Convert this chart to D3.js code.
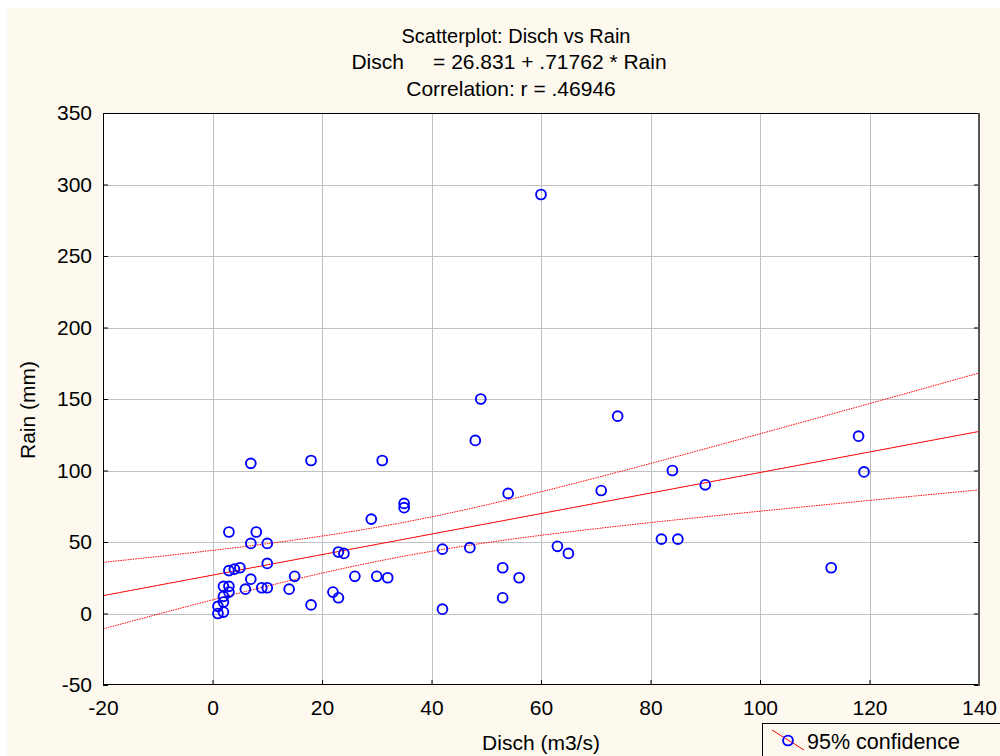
<!DOCTYPE html>
<html>
<head>
<meta charset="utf-8">
<script src="https://cdn.jsdelivr.net/npm/d3@7"></script>
<style>
  html, body { margin: 0; padding: 0; background: #ffffff; }
  svg { display: block; }
  text { font-family: "Liberation Sans", Arial, sans-serif; fill: #000; }
</style>
</head>
<body>
<svg id="chart" width="1000" height="756"></svg>
<script>
// Discharge (m3/s) observations
const disch = [1, 1, 2, 2, 2, 2, 3, 3,
  3, 4, 5, 3, 7, 8, 7, 10, 10, 7,
  6, 9, 10, 14, 15, 18, 18, 22, 23, 23,
  24, 26, 29, 30, 31, 32, 35, 35, 42, 42,
  47, 48, 49, 53, 53, 54, 56, 60, 63, 65,
  71, 74, 82, 84, 85, 90, 113, 118, 119];
// Rainfall (mm) observations, paired with disch
const rain = [5, 0, 1, 8, 12, 19, 19, 15,
  30, 31, 32, 57, 105, 57, 49, 49, 35, 24,
  17, 18, 18, 17, 26, 107, 6, 15, 11, 43,
  42, 26, 66, 26, 107, 25, 77, 74, 45, 3,
  46, 121, 150, 32, 11, 84, 25, 293, 47, 42,
  86, 138, 52, 100, 52, 90, 32, 124, 99];

// Fitted regression
const intercept = 26.831;
const slope = 0.71762;
const corrR = ".46946";
const tCrit = 2.004; // t(0.975, n-2)

const xTicks = [-20, 0, 20, 40, 60, 80, 100, 120, 140];
const yTicks = [-50, 0, 50, 100, 150, 200, 250, 300, 350];

const titleLines = ["Scatterplot: Disch vs Rain",
  "Disch     = 26.831 + .71762 * Rain",
  "Correlation: r = " + corrR];
const xTitle = "Disch (m3/s)";
const yTitle = "Rain (mm)";
const legendLabel = "95% confidence";

const svg = d3.select("#chart");
const L = 103, R = 979, T = 113, B = 685;
const fs = "21px";
const cream = "#fdf9ef";

// Page background
svg.append("rect").attr("x", 7).attr("y", 8).attr("width", 993).attr("height", 748)
  .attr("fill", cream);

const x = d3.scaleLinear().domain([-20, 140]).range([L, R]);
const y = d3.scaleLinear().domain([-50, 350]).range([B, T]);

// Plot area
svg.append("rect").attr("x", L).attr("y", T).attr("width", R - L).attr("height", B - T)
  .attr("fill", "#ffffff");

// Grid
const grid = svg.append("g").attr("stroke", "#c0c0c0").attr("stroke-width", 1);
grid.selectAll("line.v").data(xTicks.slice(1, -1)).join("line")
  .attr("x1", d => Math.round(x(d)) + 0.5).attr("x2", d => Math.round(x(d)) + 0.5)
  .attr("y1", T).attr("y2", B);
grid.selectAll("line.h").data(yTicks.slice(1, -1)).join("line")
  .attr("y1", d => Math.round(y(d)) + 0.5).attr("y2", d => Math.round(y(d)) + 0.5)
  .attr("x1", L).attr("x2", R);

// Confidence band for the mean response
const n = disch.length;
const xbar = d3.mean(disch);
const sxx = d3.sum(disch, v => (v - xbar) ** 2);
const sse = d3.sum(disch, (v, i) => (rain[i] - (intercept + slope * v)) ** 2);
const se = Math.sqrt(sse / (n - 2));
const halfWidth = v => tCrit * se * Math.sqrt(1 / n + (v - xbar) ** 2 / sxx);
const xs = d3.range(-20, 140.01, 1);

svg.append("clipPath").attr("id", "plotClip").append("rect")
  .attr("x", L).attr("y", T).attr("width", R - L).attr("height", B - T);
const lines = svg.append("g").attr("clip-path", "url(#plotClip)");

const fit = v => intercept + slope * v;
lines.append("path")
  .attr("d", d3.line().x(d => x(d)).y(d => y(fit(d)))(xs))
  .attr("fill", "none").attr("stroke", "#ff0000").attr("stroke-width", 1);
[1, -1].forEach(sign => {
  lines.append("path")
    .attr("d", d3.line().x(d => x(d)).y(d => y(fit(d) + sign * halfWidth(d)))(xs))
    .attr("fill", "none").attr("stroke", "#ff0000").attr("stroke-width", 1)
    .attr("stroke-dasharray", "1.5,1");
});

// Points
svg.append("g").selectAll("circle").data(disch).join("circle")
  .attr("cx", d => x(d)).attr("cy", (d, i) => y(rain[i])).attr("r", 4.9)
  .attr("fill", "none").attr("stroke", "#0000ff").attr("stroke-width", 1.9);

// Axes with inward ticks
const plain = d => String(d);
const ax = svg.append("g").attr("transform", `translate(0,${B})`)
  .call(d3.axisBottom(x).tickValues(xTicks).tickFormat(plain).tickSize(-5).tickPadding(15));
const ay = svg.append("g").attr("transform", `translate(${L},0)`)
  .call(d3.axisLeft(y).tickValues(yTicks).tickFormat(plain).tickSize(-5).tickPadding(11));
const ar = svg.append("g").attr("transform", `translate(${R},0)`)
  .call(d3.axisRight(y).tickValues(yTicks).tickSize(-5).tickFormat(""));
[ax, ay, ar].forEach(g => {
  g.select(".domain").remove();
  g.selectAll(".tick line").attr("stroke", "#000");
  g.selectAll(".tick text").style("font-size", fs)
    .style("font-family", "'Liberation Sans', Arial, sans-serif");
});

// Frame
svg.append("rect").attr("x", L + 0.5).attr("y", T + 0.5).attr("width", R - L - 1).attr("height", B - T - 1)
  .attr("fill", "none").attr("stroke", "#000").attr("stroke-width", 1);
svg.append("line").attr("x1", R).attr("x2", R).attr("y1", T).attr("y2", B + 1)
  .attr("stroke", "#555").attr("stroke-width", 2);

// Titles
svg.append("g").selectAll("text").data(titleLines).join("text")
  .attr("x", (d, i) => [516, 509, 511][i]).attr("y", (d, i) => 42.5 + i * 26.5)
  .attr("text-anchor", "middle").attr("xml:space", "preserve")
  .style("font-size", (d, i) => i === 0 ? "20px" : fs).style("white-space", "pre")
  .text(d => d);

svg.append("text").attr("x", (L + R) / 2).attr("y", 750).attr("text-anchor", "middle")
  .style("font-size", fs).text(xTitle);
svg.append("text").attr("transform", `translate(35,410) rotate(-90)`)
  .attr("text-anchor", "middle").style("font-size", fs).text(yTitle);

// Legend
const lg = svg.append("g");
lg.append("rect").attr("x", 762.5).attr("y", 723.5).attr("width", 300).attr("height", 60)
  .attr("fill", cream).attr("stroke", "#000").attr("stroke-width", 1);
lg.append("line").attr("x1", 772).attr("y1", 730).attr("x2", 804).attr("y2", 750)
  .attr("stroke", "#ff0000").attr("stroke-width", 1);
lg.append("circle").attr("cx", 788).attr("cy", 740.5).attr("r", 4.9)
  .attr("fill", "none").attr("stroke", "#0000ff").attr("stroke-width", 1.9);
lg.append("text").attr("x", 807).attr("y", 748.5).style("font-size", "21.5px").text(legendLabel);
</script>
</body>
</html>
